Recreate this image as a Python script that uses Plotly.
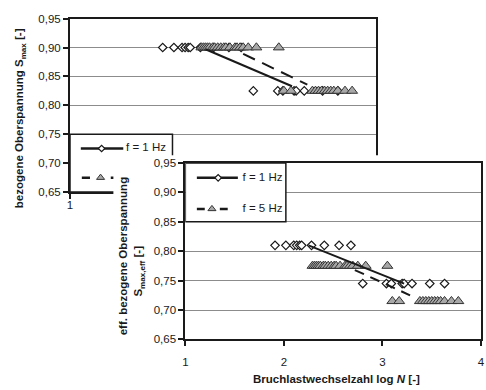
import plotly.graph_objects as go

# ---------------- data ----------------
# f = 1 Hz (diamonds)
logN_1Hz = [1.91, 2.02, 2.10, 2.13, 2.16, 2.18, 2.28, 2.41, 2.56, 2.68,
            2.80, 3.04, 3.09, 3.20, 3.22, 3.30, 3.48, 3.63]
Smax_1Hz = [0.90, 0.90, 0.90, 0.90, 0.90, 0.90, 0.90, 0.90, 0.90, 0.90,
            0.825, 0.825, 0.825, 0.825, 0.825, 0.825, 0.825, 0.825]
Smax_eff_1Hz = [0.81, 0.81, 0.81, 0.81, 0.81, 0.81, 0.81, 0.81, 0.81, 0.81,
                0.745, 0.745, 0.745, 0.745, 0.745, 0.745, 0.745, 0.745]

# f = 5 Hz (triangles)
logN_5Hz = [2.29, 2.31, 2.33, 2.35, 2.37, 2.40, 2.42, 2.45, 2.48, 2.51,
            2.53, 2.57, 2.62, 2.64, 2.67, 2.70, 2.75, 2.83, 3.05,
            3.10, 3.17, 3.38, 3.41, 3.44, 3.47, 3.50, 3.53, 3.56, 3.59,
            3.63, 3.70, 3.77]
Smax_5Hz = [0.90, 0.90, 0.90, 0.90, 0.90, 0.90, 0.90, 0.90, 0.90, 0.90,
            0.90, 0.90, 0.90, 0.90, 0.90, 0.90, 0.90, 0.90, 0.90,
            0.825, 0.825, 0.825, 0.825, 0.825, 0.825, 0.825, 0.825, 0.825,
            0.825, 0.825, 0.825, 0.825]
Smax_eff_5Hz = [0.775, 0.775, 0.775, 0.775, 0.775, 0.775, 0.775, 0.775, 0.775, 0.775,
                0.775, 0.775, 0.775, 0.775, 0.775, 0.775, 0.775, 0.775, 0.775,
                0.715, 0.715, 0.715, 0.715, 0.715, 0.715, 0.715, 0.715, 0.715,
                0.715, 0.715, 0.715, 0.715]

# regression lines
fit_1Hz_x = [2.33, 3.18]
fit_1Hz_y = [0.897, 0.833]
fit_5Hz_x = [2.70, 3.33]
fit_5Hz_y = [0.889, 0.836]
fit_eff_1Hz_x = [2.25, 3.22]
fit_eff_1Hz_y = [0.81, 0.745]
fit_eff_5Hz_x = [2.72, 3.28]
fit_eff_5Hz_y = [0.768, 0.725]

legend_labels = ["f = 1 Hz", "f = 5 Hz"]
x_ticks = [1, 2, 3, 4]
y_ticks = [0.65, 0.70, 0.75, 0.80, 0.85, 0.90, 0.95]

# ---------------- styling ----------------
FONT = "Liberation Sans, Arial, sans-serif"
DARK = "#1a1a1a"
GRID = "#8c8c8c"
TRI_FILL = "#a8a8a8"
W, H = 486, 390

def px(x):
    return x / W

def py(y):
    return (H - y) / H

diamond = dict(symbol="diamond", size=6.5, color="white", line=dict(color=DARK, width=1.2))
triangle = dict(symbol="triangle-up", size=9.5, color=TRI_FILL, line=dict(color="#333333", width=1))
diamond_leg = dict(symbol="diamond", size=5, color="white", line=dict(color=DARK, width=1.2))
triangle_leg = dict(symbol="triangle-up", size=7, color=TRI_FILL, line=dict(color="#333333", width=1))

fig = go.Figure()

def add_panel(xa, ya, xs1, ys1, xs5, ys5, f1x, f1y, f5x, f5y, dash):
    fig.add_trace(go.Scatter(x=xs1, y=ys1, mode="markers", marker=diamond,
                             xaxis=xa, yaxis=ya, showlegend=False, hoverinfo="skip"))
    fig.add_trace(go.Scatter(x=xs5, y=ys5, mode="markers", marker=triangle,
                             xaxis=xa, yaxis=ya, showlegend=False, hoverinfo="skip"))
    fig.add_trace(go.Scatter(x=f1x, y=f1y, mode="lines", line=dict(color=DARK, width=2),
                             xaxis=xa, yaxis=ya, showlegend=False, hoverinfo="skip"))
    fig.add_trace(go.Scatter(x=f5x, y=f5y, mode="lines", line=dict(color=DARK, width=2, dash=dash),
                             xaxis=xa, yaxis=ya, showlegend=False, hoverinfo="skip"))

def add_legend(xa, ya, box, row1, row2):
    fig.add_shape(type="rect", xref=xa, yref=ya, x0=box[0], x1=box[1], y0=box[2], y1=box[3],
                  fillcolor="white", line=dict(color=DARK, width=1.5), layer="between")
    fig.add_trace(go.Scatter(x=row1["lx"], y=[row1["y"]] * len(row1["lx"]), mode="lines",
                             line=dict(color=DARK, width=2.5), xaxis=xa, yaxis=ya,
                             showlegend=False, hoverinfo="skip"))
    fig.add_trace(go.Scatter(x=[row1["mx"]], y=[row1["y"]], mode="markers", marker=diamond_leg,
                             xaxis=xa, yaxis=ya, showlegend=False, hoverinfo="skip"))
    fig.add_trace(go.Scatter(x=row2["lx"], y=[row2["y"] if v is not None else None for v in row2["lx"]],
                             mode="lines", line=dict(color=DARK, width=2.5), xaxis=xa, yaxis=ya,
                             showlegend=False, hoverinfo="skip"))
    fig.add_trace(go.Scatter(x=[row2["mx"]], y=[row2["y"]], mode="markers", marker=triangle_leg,
                             xaxis=xa, yaxis=ya, showlegend=False, hoverinfo="skip"))
    fig.add_trace(go.Scatter(x=[row1["tx"], row2["tx"]], y=[row1["y"], row2["y"]], mode="text",
                             text=legend_labels, textposition="middle right",
                             textfont=dict(family=FONT, size=11.5, color=DARK),
                             xaxis=xa, yaxis=ya, showlegend=False, hoverinfo="skip"))

# ---- background chart (S_max) ----
add_legend("x", "y", (1, 2.006, 0.65, 0.75),
           dict(y=0.7254, lx=[1.106, 1.523], mx=1.31, tx=1.55),
           dict(y=0.675, lx=[1.116, 1.196, None, 1.40, 1.484], mx=1.30, tx=1.55))
add_panel("x", "y", logN_1Hz, Smax_1Hz, logN_5Hz, Smax_5Hz,
          fit_1Hz_x, fit_1Hz_y, fit_5Hz_x, fit_5Hz_y, "13px,8px")

# ---- cover (white box behind the inset) ----
fig.add_trace(go.Scatter(x=[0], y=[0], mode="markers", marker=dict(opacity=0),
                         xaxis="x2", yaxis="y2", showlegend=False, hoverinfo="skip"))

# ---- inset chart (S_max,eff) ----
add_legend("x3", "y3", (1, 2.02, 0.85, 0.95),
           dict(y=0.9248, lx=[1.117, 1.533], mx=1.333, tx=1.58),
           dict(y=0.872, lx=[1.117, 1.197, None, 1.35, 1.43], mx=1.27, tx=1.58))
add_panel("x3", "y3", logN_1Hz, Smax_eff_1Hz, logN_5Hz, Smax_eff_5Hz,
          fit_eff_1Hz_x, fit_eff_1Hz_y, fit_eff_5Hz_x, fit_eff_5Hz_y, "10px,7px")

tickfont = dict(family=FONT, size=11.5, color=DARK)
xcommon = dict(range=[1, 4], tickvals=x_ticks, showgrid=False, zeroline=False,
               showline=True, mirror=True, linecolor=DARK, linewidth=2,
               ticks="outside", ticklen=5, tickwidth=1.5, tickcolor=DARK,
               tickfont=tickfont, fixedrange=True)
ycommon = dict(range=[0.65, 0.95], tickvals=y_ticks, tickformat=".2f",
               showgrid=True, gridcolor=GRID, gridwidth=1.3, zeroline=False,
               showline=True, mirror=True, linecolor=DARK, linewidth=2,
               ticks="outside", ticklen=5, tickwidth=1.5, tickcolor=DARK,
               tickfont=tickfont, fixedrange=True)

def ann(text, x, y, angle=0):
    return dict(text=text, xref="paper", yref="paper", x=px(x), y=py(y),
                xanchor="center", yanchor="middle", textangle=angle, showarrow=False,
                font=dict(family=FONT, size=11.5, color=DARK))

fig.update_layout(
    width=W, height=H,
    margin=dict(l=0, r=0, t=0, b=0),
    paper_bgcolor="white", plot_bgcolor="white",
    separators=",.",
    showlegend=False,
    hovermode=False,
    font=dict(family=FONT, size=11.5, color=DARK),
    xaxis=dict(domain=[px(68), px(378)], anchor="y", ticklabelstandoff=-4, **xcommon),
    yaxis=dict(domain=[py(192), py(13)], anchor="x", **ycommon),
    xaxis2=dict(domain=[px(112), 1.0], anchor="y2", visible=False, range=[0, 1]),
    yaxis2=dict(domain=[0.0, py(154)], anchor="x2", visible=False, range=[0, 1]),
    xaxis3=dict(domain=[px(185), px(485)], anchor="y3", ticklabelstandoff=6, **xcommon),
    yaxis3=dict(domain=[py(344), py(162)], anchor="x3", **ycommon),
    annotations=[
        ann("<b>bezogene Oberspannung S<sub>max</sub> [-]</b>", 18, 116, -90),
        ann("<b>eff. bezogene Oberspannung</b>", 122, 258, -90),
        ann("<b>S<sub>max,eff</sub> [-]</b>", 138, 274, -90),
        ann("<b>Bruchlastwechselzahl log <i>N</i> [-]</b>", 338, 385),
    ],
)

fig.write_html("out.html", config={"displayModeBar": False},
               post_script="document.body.style.margin='0';document.body.style.padding='0';")
